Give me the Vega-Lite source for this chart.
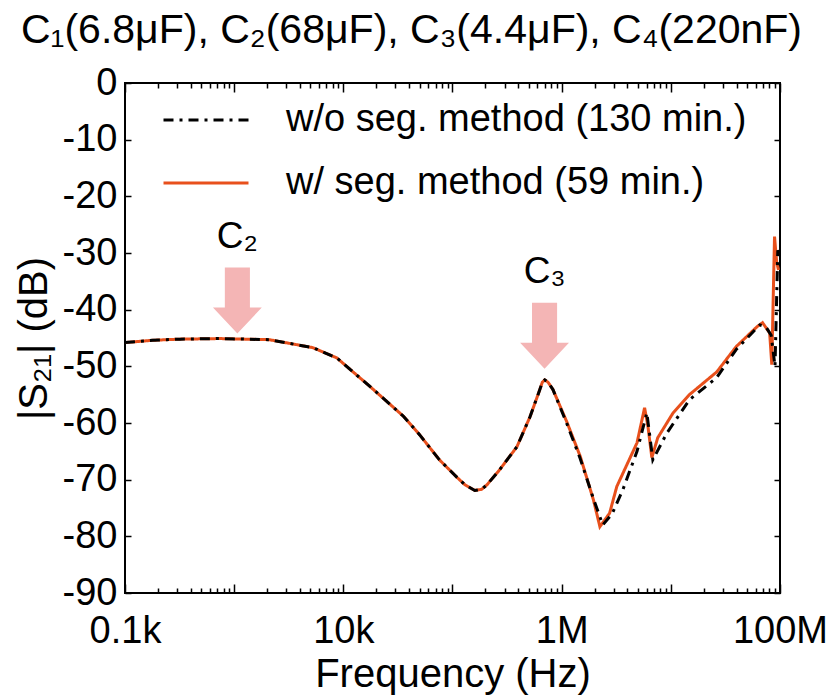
{
  "$schema": "https://vega.github.io/schema/vega-lite/v6.json",
  "width": 655,
  "height": 510,
  "autosize": {"type": "none"},
  "padding": {"left": 125, "top": 83, "right": 47, "bottom": 104},
  "background": "white",
  "config": {
    "font": "Liberation Sans",
    "view": {"stroke": "black", "strokeWidth": 2},
    "legend": {
      "orient": "none",
      "legendX": 37,
      "legendY": -7,
      "symbolType": "stroke",
      "symbolSize": 7225,
      "symbolStrokeWidth": 3,
      "labelFontSize": 38,
      "labelColor": "black",
      "labelOffset": 36,
      "rowPadding": -7,
      "padding": 0,
      "labelLimit": 600
    }
  },
  "title": {
    "text": "C₁(6.8μF), C₂(68μF), C₃(4.4μF), C₄(220nF)",
    "fontSize": 41,
    "fontWeight": "normal",
    "color": "black",
    "anchor": "middle",
    "frame": "group",
    "dx": -41,
    "offset": 12
  },
  "datasets": {
    "curves": [
      {"series": "w/ seg. method (59 min.)", "f": 100, "db": -45.8},
      {"series": "w/ seg. method (59 min.)", "f": 180, "db": -45.4},
      {"series": "w/ seg. method (59 min.)", "f": 320, "db": -45.2},
      {"series": "w/ seg. method (59 min.)", "f": 740, "db": -45.1},
      {"series": "w/ seg. method (59 min.)", "f": 2100, "db": -45.3},
      {"series": "w/ seg. method (59 min.)", "f": 5250, "db": -46.7},
      {"series": "w/ seg. method (59 min.)", "f": 8700, "db": -48.5},
      {"series": "w/ seg. method (59 min.)", "f": 17400, "db": -53.5},
      {"series": "w/ seg. method (59 min.)", "f": 35500, "db": -58.8},
      {"series": "w/ seg. method (59 min.)", "f": 50100, "db": -62.1},
      {"series": "w/ seg. method (59 min.)", "f": 75900, "db": -66.5},
      {"series": "w/ seg. method (59 min.)", "f": 110000, "db": -69.6},
      {"series": "w/ seg. method (59 min.)", "f": 130000, "db": -70.9},
      {"series": "w/ seg. method (59 min.)", "f": 160000, "db": -71.9},
      {"series": "w/ seg. method (59 min.)", "f": 185000, "db": -71.7},
      {"series": "w/ seg. method (59 min.)", "f": 207000, "db": -70.9},
      {"series": "w/ seg. method (59 min.)", "f": 269000, "db": -68.3},
      {"series": "w/ seg. method (59 min.)", "f": 389000, "db": -64.2},
      {"series": "w/ seg. method (59 min.)", "f": 513000, "db": -58.9},
      {"series": "w/ seg. method (59 min.)", "f": 631000, "db": -54.1},
      {"series": "w/ seg. method (59 min.)", "f": 665000, "db": -52.8},
      {"series": "w/ seg. method (59 min.)", "f": 700000, "db": -52.4},
      {"series": "w/ seg. method (59 min.)", "f": 750000, "db": -52.8},
      {"series": "w/ seg. method (59 min.)", "f": 832000, "db": -54.1},
      {"series": "w/ seg. method (59 min.)", "f": 1120000, "db": -59.9},
      {"series": "w/ seg. method (59 min.)", "f": 1480000, "db": -65.9},
      {"series": "w/ seg. method (59 min.)", "f": 1950000, "db": -73.5},
      {"series": "w/ seg. method (59 min.)", "f": 2240000, "db": -78.3},
      {"series": "w/ seg. method (59 min.)", "f": 2750000, "db": -75.9},
      {"series": "w/ seg. method (59 min.)", "f": 3200000, "db": -71.2},
      {"series": "w/ seg. method (59 min.)", "f": 4900000, "db": -63.5},
      {"series": "w/ seg. method (59 min.)", "f": 5750000, "db": -57.3},
      {"series": "w/ seg. method (59 min.)", "f": 6170000, "db": -60.6},
      {"series": "w/ seg. method (59 min.)", "f": 6700000, "db": -66.1},
      {"series": "w/ seg. method (59 min.)", "f": 7590000, "db": -62.6},
      {"series": "w/ seg. method (59 min.)", "f": 10500000, "db": -58.2},
      {"series": "w/ seg. method (59 min.)", "f": 14800000, "db": -55},
      {"series": "w/ seg. method (59 min.)", "f": 26300000, "db": -51},
      {"series": "w/ seg. method (59 min.)", "f": 39800000, "db": -46.5},
      {"series": "w/ seg. method (59 min.)", "f": 61700000, "db": -43},
      {"series": "w/ seg. method (59 min.)", "f": 69200000, "db": -42.3},
      {"series": "w/ seg. method (59 min.)", "f": 80400000, "db": -44.1},
      {"series": "w/ seg. method (59 min.)", "f": 84100000, "db": -49.7},
      {"series": "w/ seg. method (59 min.)", "f": 89100000, "db": -27.1},
      {"series": "w/ seg. method (59 min.)", "f": 93300000, "db": -31.7},
      {"series": "w/ seg. method (59 min.)", "f": 97000000, "db": -33},
      {"series": "w/o seg. method (130 min.)", "f": 100, "db": -45.8},
      {"series": "w/o seg. method (130 min.)", "f": 180, "db": -45.4},
      {"series": "w/o seg. method (130 min.)", "f": 320, "db": -45.2},
      {"series": "w/o seg. method (130 min.)", "f": 740, "db": -45.1},
      {"series": "w/o seg. method (130 min.)", "f": 2100, "db": -45.3},
      {"series": "w/o seg. method (130 min.)", "f": 5250, "db": -46.7},
      {"series": "w/o seg. method (130 min.)", "f": 8700, "db": -48.5},
      {"series": "w/o seg. method (130 min.)", "f": 17400, "db": -53.5},
      {"series": "w/o seg. method (130 min.)", "f": 35500, "db": -58.8},
      {"series": "w/o seg. method (130 min.)", "f": 50100, "db": -62.1},
      {"series": "w/o seg. method (130 min.)", "f": 75900, "db": -66.5},
      {"series": "w/o seg. method (130 min.)", "f": 110000, "db": -69.6},
      {"series": "w/o seg. method (130 min.)", "f": 130000, "db": -70.9},
      {"series": "w/o seg. method (130 min.)", "f": 160000, "db": -71.9},
      {"series": "w/o seg. method (130 min.)", "f": 185000, "db": -71.7},
      {"series": "w/o seg. method (130 min.)", "f": 207000, "db": -70.9},
      {"series": "w/o seg. method (130 min.)", "f": 269000, "db": -68.3},
      {"series": "w/o seg. method (130 min.)", "f": 389000, "db": -64.2},
      {"series": "w/o seg. method (130 min.)", "f": 513000, "db": -58.9},
      {"series": "w/o seg. method (130 min.)", "f": 631000, "db": -54.1},
      {"series": "w/o seg. method (130 min.)", "f": 665000, "db": -52.8},
      {"series": "w/o seg. method (130 min.)", "f": 700000, "db": -52.4},
      {"series": "w/o seg. method (130 min.)", "f": 750000, "db": -52.8},
      {"series": "w/o seg. method (130 min.)", "f": 832000, "db": -54.1},
      {"series": "w/o seg. method (130 min.)", "f": 1120000, "db": -60.2},
      {"series": "w/o seg. method (130 min.)", "f": 1480000, "db": -66.3},
      {"series": "w/o seg. method (130 min.)", "f": 1950000, "db": -73.3},
      {"series": "w/o seg. method (130 min.)", "f": 2380000, "db": -78},
      {"series": "w/o seg. method (130 min.)", "f": 2900000, "db": -76},
      {"series": "w/o seg. method (130 min.)", "f": 3630000, "db": -71.8},
      {"series": "w/o seg. method (130 min.)", "f": 4900000, "db": -65},
      {"series": "w/o seg. method (130 min.)", "f": 6030000, "db": -58.2},
      {"series": "w/o seg. method (130 min.)", "f": 6840000, "db": -66.5},
      {"series": "w/o seg. method (130 min.)", "f": 9180000, "db": -61.8},
      {"series": "w/o seg. method (130 min.)", "f": 14800000, "db": -55.9},
      {"series": "w/o seg. method (130 min.)", "f": 26300000, "db": -52},
      {"series": "w/o seg. method (130 min.)", "f": 39800000, "db": -47},
      {"series": "w/o seg. method (130 min.)", "f": 65300000, "db": -42.7},
      {"series": "w/o seg. method (130 min.)", "f": 74000000, "db": -43},
      {"series": "w/o seg. method (130 min.)", "f": 83000000, "db": -44.5},
      {"series": "w/o seg. method (130 min.)", "f": 90000000, "db": -50},
      {"series": "w/o seg. method (130 min.)", "f": 95500000, "db": -29.5},
      {"series": "w/o seg. method (130 min.)", "f": 100000000, "db": -31}
    ],
    "marks": [
      {"f": 1070, "db": -38.4, "label": "C₂"},
      {"f": 697000, "db": -44.6, "label": "C₃"}
    ]
  },
  "layer": [
    {
      "data": {"name": "curves"},
      "mark": {"type": "line", "strokeWidth": 3, "strokeCap": "butt", "clip": true},
      "encoding": {
        "x": {
          "field": "f", "type": "quantitative",
          "scale": {"type": "log", "domain": [100, 100000000], "nice": false},
          "axis": {
            "orient": "bottom",
            "offset": -9,
            "title": "Frequency (Hz)",
            "titleFontSize": 40, "titleFontWeight": "normal", "titleColor": "black", "titlePadding": 4,
            "values": [100,200,300,400,500,600,700,800,900,1000,2000,3000,4000,5000,6000,7000,8000,9000,10000,20000,30000,40000,50000,60000,70000,80000,90000,100000,200000,300000,400000,500000,600000,700000,800000,900000,1000000,2000000,3000000,4000000,5000000,6000000,7000000,8000000,9000000,10000000,20000000,30000000,40000000,50000000,60000000,70000000,80000000,90000000,100000000],
            "labelExpr": "datum.value == 100 ? '0.1k' : datum.value == 10000 ? '10k' : datum.value == 1000000 ? '1M' : datum.value == 100000000 ? '100M' : ''",
            "labelFontSize": 38, "labelColor": "black", "labelOverlap": false, "labelFlush": false, "labelBound": false,
            "labelPadding": 19,
            "tickColor": "black", "tickWidth": 1.5, "tickSize": 9,
            "tickDash": {"condition": {"test": "abs(log(datum.value)/LN10 - round(log(datum.value)/LN10)) < 0.001", "value": [9, 0]}, "value": [0, 4, 5, 30]},
            "domain": false, "grid": false
          }
        },
        "y": {
          "field": "db", "type": "quantitative",
          "scale": {"domain": [-90, 0], "nice": false, "zero": false},
          "axis": {
            "orient": "left",
            "offset": -6,
            "title": "|S₂₁| (dB)",
            "titleFontSize": 40, "titleFontWeight": "normal", "titleColor": "black", "titlePadding": 8,
            "values": [-90,-80,-70,-60,-50,-40,-30,-20,-10,0],
            "labelExpr": "datum.value + ''",
            "labelFontSize": 38, "labelColor": "black", "labelPadding": 8,
            "tickColor": "black", "tickWidth": 1.5, "tickSize": 6,
            "domain": false, "grid": false
          }
        },
        "color": {
          "field": "series", "type": "nominal",
          "scale": {"domain": ["w/o seg. method (130 min.)", "w/ seg. method (59 min.)"], "range": ["black", "#E8501C"]},
          "legend": {"title": null}
        },
        "strokeDash": {
          "field": "series", "type": "nominal",
          "scale": {"domain": ["w/o seg. method (130 min.)", "w/ seg. method (59 min.)"], "range": [[10, 6, 3, 6], [1, 0]]},
          "legend": {"title": null}
        }
      }
    },
    {
      "data": {"name": "marks"},
      "mark": {"type": "point", "shape": "M-0.38,-1L0.38,-1L0.38,0.21L0.74,0.21L0,1L-0.74,0.21L-0.38,0.21Z", "filled": true, "size": 4356, "color": "#F4B5B5", "opacity": 1, "strokeWidth": 0},
      "encoding": {
        "x": {
          "field": "f", "type": "quantitative",
          "axis": {
            "orient": "top", "title": null, "labels": false, "offset": -9,
            "values": [100,200,300,400,500,600,700,800,900,1000,2000,3000,4000,5000,6000,7000,8000,9000,10000,20000,30000,40000,50000,60000,70000,80000,90000,100000,200000,300000,400000,500000,600000,700000,800000,900000,1000000,2000000,3000000,4000000,5000000,6000000,7000000,8000000,9000000,10000000,20000000,30000000,40000000,50000000,60000000,70000000,80000000,90000000,100000000],
            "tickColor": "black", "tickWidth": 1.5, "tickSize": 9,
            "tickDash": {"condition": {"test": "abs(log(datum.value)/LN10 - round(log(datum.value)/LN10)) < 0.001", "value": [9, 0]}, "value": [0, 4, 5, 30]},
            "domain": false, "grid": false
          }
        },
        "y": {
          "field": "db", "type": "quantitative",
          "axis": {
            "orient": "right", "title": null, "labels": false, "offset": -6,
            "values": [-90,-80,-70,-60,-50,-40,-30,-20,-10,0],
            "tickColor": "black", "tickWidth": 1.5, "tickSize": 6,
            "domain": false, "grid": false
          }
        }
      }
    },
    {
      "data": {"name": "marks"},
      "mark": {"type": "text", "fontSize": 37, "color": "black", "baseline": "alphabetic", "align": "center", "dy": -53},
      "encoding": {
        "x": {"field": "f", "type": "quantitative", "axis": null},
        "y": {"field": "db", "type": "quantitative", "axis": null},
        "text": {"field": "label"}
      }
    }
  ],
  "resolve": {"axis": {"x": "independent", "y": "independent"}}
}
